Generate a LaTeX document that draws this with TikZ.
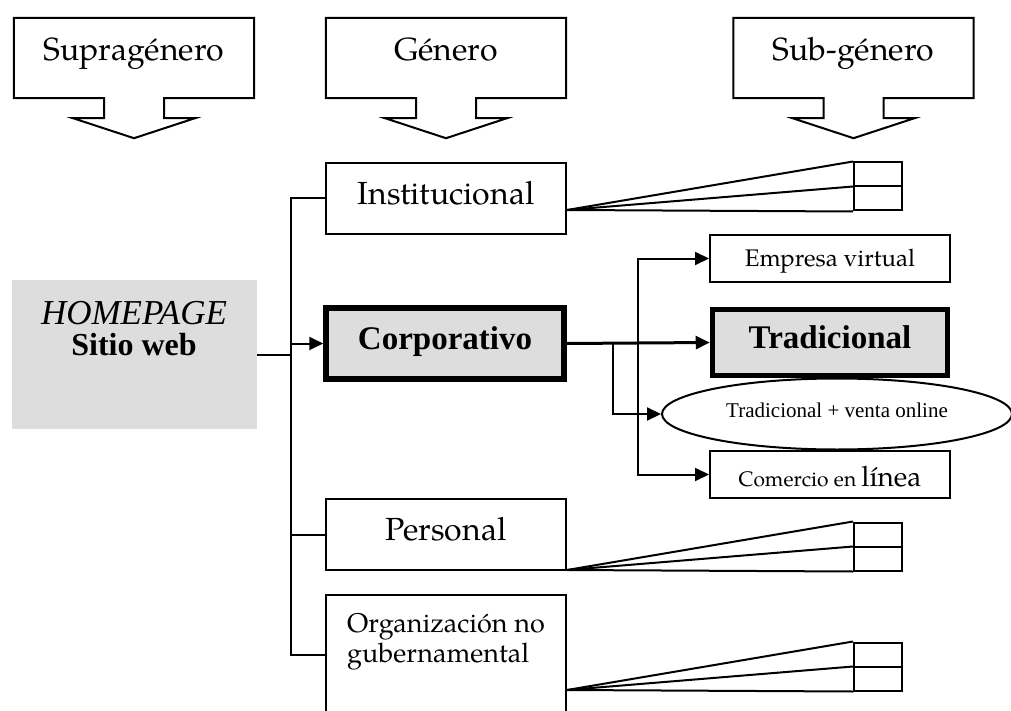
\documentclass[tikz,border=0pt]{standalone}
\usepackage{fontspec}
\setmainfont{TeX Gyre Pagella}
\newfontfamily\timesf{Liberation Serif}
\usetikzlibrary{arrows.meta,shapes.geometric}
\definecolor{boxgray}{HTML}{DDDDDD}

% header box with a block arrow pointing down
\newcommand\hdrarrow[1]{%
  \draw[ln] (#1.north west) -- (#1.north east) -- (#1.south east)
    -- ([xshift=30pt]#1.south) -- ++(0,20) -- ++(31,0) -- ++(-61,20)
    -- ++(-61,-20) -- ++(31,0) -- ++(0,-20) -- (#1.south west) -- cycle;}

\begin{document}
\begin{tikzpicture}[x=1pt,y=-1pt,
  ln/.style={line width=2pt},
  tip/.style={-{Triangle[length=14pt,width=13pt]}},
  twotip/.style={{Triangle[length=14pt,width=13pt]}-{Triangle[length=14pt,width=13pt]}},
  hdr/.style={rectangle,minimum width=240pt,minimum height=80pt,inner sep=0pt,
    text height=22pt,text depth=16pt,font=\fontsize{32}{38}\selectfont},
  gbox/.style={draw,line width=2pt,rectangle,minimum width=240pt,inner sep=0pt,
    text height=24pt,text depth=12pt,font=\fontsize{32}{38}\selectfont},
  sbox/.style={draw,line width=2pt,rectangle,minimum width=240pt,minimum height=47pt,inner sep=0pt},
  hbox/.style={draw,line width=5.5pt,fill=boxgray,rectangle,inner sep=0pt,
    text height=24pt,text depth=12pt,font=\timesf\bfseries\fontsize{33}{38}\selectfont},
  grid/.style={draw,line width=2pt,rectangle,minimum width=48pt,minimum height=48pt,inner sep=0pt},
]
\useasboundingbox (0,0) rectangle (1011,711);

% column headers
\node[hdr] (supra) at (134,58) {Supragénero};
\node[hdr] (gen) at (446,58) {Género};
\node[hdr] (sub) at (853.5,58) {Sub-género};
\hdrarrow{supra}
\hdrarrow{gen}
\hdrarrow{sub}

% root
\node[fill=boxgray,minimum width=245pt,minimum height=149pt,inner sep=0pt] (home) at (134.5,354.5) {};
\node[anchor=base,font=\timesf\itshape\fontsize{35}{38}\selectfont,inner sep=0pt] (hometop) at (134,324) {HOMEPAGE};
\node[anchor=base,font=\timesf\bfseries\fontsize{32}{38}\selectfont,inner sep=0pt] (homebot) at (134,355) {Sitio web};

% genres
\node[gbox,minimum height=71pt] (inst) at (446,198.5) {Institucional};
\node[hbox,minimum width=238pt,minimum height=71pt] (corp) at (445,343.5) {Corporativo};
\node[gbox,minimum height=71pt] (pers) at (446,534.5) {Personal};
\node[gbox,minimum height=119pt] (ong) at (446,654.5) {};
\node[anchor=base west,align=left,font=\fontsize{27}{30}\selectfont,inner sep=0pt] (ongtxt) at (347,662)
  {Organización no\\gubernamental};

% sub-genres of the corporate site
\node[sbox,text height=18pt,text depth=2pt,font=\fontsize{24}{28}\selectfont] (emp) at (830,258.5) {Empresa virtual};
\node[hbox,minimum width=235pt,minimum height=66pt] (trad) at (830,342.5) {Tradicional};
\node[draw,ellipse,line width=2pt,fill=white,minimum width=350pt,minimum height=71pt,inner sep=0pt,
  text height=17pt,text depth=11pt,font=\timesf\fontsize{21}{25}\selectfont] (ell) at (837,414) {Tradicional + venta online};
\node[sbox,text height=26pt,text depth=2pt] (com) at (830,474.5)
  {\fontsize{21}{25}\selectfont Comercio en \fontsize{28}{30}\selectfont línea};

% empty sub-genre slots
\node[grid] (g1) at (878,186.5) {};
\node[grid] (g2) at (878,546.5) {};
\node[grid] (g3) at (878,666.5) {};
\foreach \g in {g1,g2,g3} \draw[ln] (\g.west) -- (\g.east);

% trunk
\coordinate (sp) at (291,0);
\draw[ln] (inst.west) -- (inst.west -| sp) -- (ong.west -| sp) -- (ong.west);
\draw[ln] (pers.west -| sp) -- (pers.west);
\draw[ln] (home.east) -- (home.east -| sp);
\draw[ln,tip] (corp.west -| sp) -- (corp.west);

% corporate branches
\draw[line width=3pt,tip] (corp.east) -- (trad.west);
\coordinate (b1) at (613,0);
\coordinate (b2) at (638,0);
\draw[ln,tip] (corp.east -| b1) |- (ell.west);
\draw[ln,twotip] (emp.west) -| (b2 |- corp.east) |- (com.west);

% fans to empty slots
\coordinate (f1) at (567,210);
\coordinate (f2) at (567,570);
\coordinate (f3) at (567,690);
\foreach \f/\g in {f1/g1,f2/g2,f3/g3}{
  \draw[ln] (\f) -- (\g.north west);
  \draw[ln] (\f) -- (\g.west);
  \draw[ln] (\f) -- (\g.south west);
}
\end{tikzpicture}
\end{document}
